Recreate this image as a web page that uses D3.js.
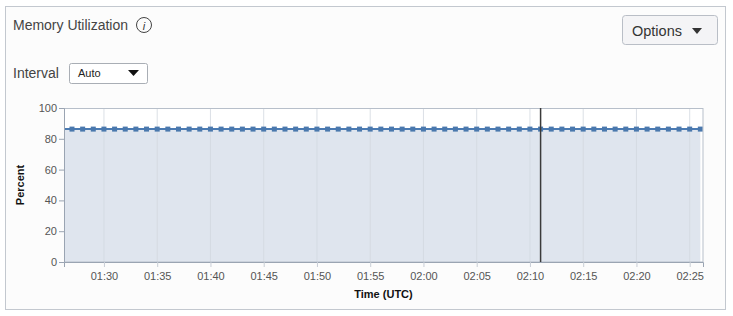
<!DOCTYPE html>
<html>
<head>
<meta charset="utf-8">
<script src="https://cdn.jsdelivr.net/npm/d3@7"></script>
<style>
    body { margin: 0; background: #fff; font-family: "Liberation Sans", Arial, sans-serif; }
    svg text { font-family: "Liberation Sans", Arial, sans-serif; }
</style>
</head>
<body>
<div id="chart"></div>
<script>
// data: one sample per minute, 01:26 .. 02:26 (UTC)
let startTime = "01:26";
let percentValues = [
    86.3, 86.3, 86.3, 86.3, 86.3, 86.3, 86.3, 86.3, 86.3, 86.3,
    86.3, 86.3, 86.3, 86.3, 86.3, 86.3, 86.3, 86.3, 86.3, 86.3,
    86.3, 86.3, 86.3, 86.3, 86.3, 86.3, 86.3, 86.3, 86.3, 86.3,
    86.3, 86.3, 86.3, 86.3, 86.3, 86.3, 86.3, 86.3, 86.3, 86.3,
    86.3, 86.3, 86.3, 86.3, 86.3, 86.3, 86.3, 86.3, 86.3, 86.3,
    86.3, 86.3, 86.3, 86.3, 86.3, 86.3, 86.3, 86.3, 86.3, 86.3,
    86.3
];
let yTicks = [0, 20, 40, 60, 80, 100];
let xTickLabels = ["01:30", "01:35", "01:40", "01:45", "01:50", "01:55",
    "02:00", "02:05", "02:10", "02:15", "02:20", "02:25"];
let timeDomain = ["01:26:15", "02:26:15"];
let cursorTime = "02:11";

let parseHM = d3.utcParse("%H:%M");
let parseHMS = d3.utcParse("%H:%M:%S");
let t0 = parseHM(startTime);
let data = percentValues.map((v, i) => ({ time: d3.utcMinute.offset(t0, i), value: v }));

let W = 733, H = 316;
let margin = {top: 108, right: 30, bottom: 54, left: 64};
let width = 703 - margin.left;
let height = 262 - margin.top;

let svg = d3.select("#chart").append("svg")
    .attr("width", W)
    .attr("height", H);

// panel
svg.append("rect")
    .attr("x", 5.5).attr("y", 6.5)
    .attr("width", 720).attr("height", 303)
    .attr("fill", "#fcfcfc")
    .attr("stroke", "#c3c8cf");

// title + info icon
svg.append("text")
    .attr("x", 13).attr("y", 30)
    .attr("font-size", "14px").attr("fill", "#444")
    .attr("textLength", 115)
    .text("Memory Utilization");
svg.append("circle")
    .attr("cx", 144).attr("cy", 25).attr("r", 7.5)
    .attr("fill", "none").attr("stroke", "#444").attr("stroke-width", 1);
svg.append("text")
    .attr("x", 144).attr("y", 29.5)
    .attr("text-anchor", "middle")
    .attr("font-size", "11px").attr("font-style", "italic")
    .attr("font-family", "DejaVu Serif, serif")
    .attr("fill", "#333")
    .text("i");

// options button
svg.append("rect")
    .attr("x", 622.5).attr("y", 15.5)
    .attr("width", 95).attr("height", 29).attr("rx", 3)
    .attr("fill", "#f4f4f6").attr("stroke", "#b9bec6");
svg.append("text")
    .attr("x", 632).attr("y", 35.5)
    .attr("font-size", "14.5px").attr("fill", "#333")
    .text("Options");
svg.append("path")
    .attr("d", "M692,28 L702,28 L697,34 Z")
    .attr("fill", "#333");

// interval selector
svg.append("text")
    .attr("x", 13).attr("y", 78)
    .attr("font-size", "14px").attr("fill", "#444")
    .text("Interval");
svg.append("rect")
    .attr("x", 69.5).attr("y", 63.5)
    .attr("width", 78).attr("height", 20).attr("rx", 2)
    .attr("fill", "#fff").attr("stroke", "#a9aeb5");
svg.append("text")
    .attr("x", 78).attr("y", 77)
    .attr("font-size", "11px").attr("fill", "#222")
    .text("Auto");
svg.append("path")
    .attr("d", "M128,70 L139,70 L133.5,76 Z")
    .attr("fill", "#111");

let g = svg.append("g")
    .attr("transform", "translate(" + margin.left + "," + margin.top + ")");

// scales
let x = d3.scaleUtc()
    .domain(timeDomain.map(parseHMS))
    .range([0, width]);
let y = d3.scaleLinear()
    .domain([0, 100])
    .range([height, 0]);

let xTickTimes = xTickLabels.map(parseHM);

g.append("defs").append("clipPath")
    .attr("id", "clip")
    .append("rect")
    .attr("width", width)
    .attr("height", height);

// plot background
g.append("rect")
    .attr("width", width).attr("height", height)
    .attr("fill", "#fff");

let plot = g.append("g").attr("clip-path", "url(#clip)");

// area
let area = d3.area()
    .x(d => x(d.time))
    .y0(y(0))
    .y1(d => y(d.value));
plot.append("path")
    .datum(data)
    .attr("d", area)
    .attr("fill", "#dfe5ee");

// vertical grid lines
plot.selectAll(".grid")
    .data(xTickTimes)
    .enter().append("line")
    .attr("class", "grid")
    .attr("x1", d => x(d)).attr("x2", d => x(d))
    .attr("y1", 0).attr("y2", height)
    .attr("stroke", "#d2d8e0")
    .attr("stroke-opacity", 0.8)
    .attr("stroke-width", 1);

// line
let line = d3.line()
    .x(d => x(d.time))
    .y(d => y(d.value));
plot.append("path")
    .datum(data)
    .attr("d", line)
    .attr("fill", "none")
    .attr("stroke", "#4b7bb3")
    .attr("stroke-width", 2);

// points
plot.selectAll(".pt")
    .data(data)
    .enter().append("rect")
    .attr("class", "pt")
    .attr("x", d => x(d.time) - 2.5)
    .attr("y", d => y(d.value) - 2.5)
    .attr("width", 5).attr("height", 5)
    .attr("fill", "#4a78ad");

// frame
g.append("rect")
    .attr("x", 0.5).attr("y", 0.5)
    .attr("width", width - 0.5).attr("height", height - 0.5)
    .attr("fill", "none")
    .attr("stroke", "#b7bfca");

// cursor line
g.append("line")
    .attr("x1", x(parseHM(cursorTime))).attr("x2", x(parseHM(cursorTime)))
    .attr("y1", 0).attr("y2", height)
    .attr("stroke", "#3a3a3a")
    .attr("stroke-width", 1.5);

// axes
let xAxis = g.append("g")
    .attr("transform", "translate(0," + height + ")")
    .call(d3.axisBottom(x)
        .tickValues(xTickTimes)
        .tickFormat(d3.utcFormat("%H:%M"))
        .tickSizeOuter(0)
        .tickSize(5)
        .tickPadding(5));
let yAxis = g.append("g")
    .call(d3.axisLeft(y)
        .tickValues(yTicks)
        .tickSizeOuter(0)
        .tickSize(5)
        .tickPadding(2));

[xAxis, yAxis].forEach(a => {
    a.select(".domain").attr("stroke", "#9aa4b2");
    a.selectAll(".tick line").attr("stroke", "#9aa4b2");
    a.selectAll(".tick text")
        .attr("fill", "#555")
        .attr("font-size", "11px")
        .attr("font-family", "Liberation Sans, Arial, sans-serif");
});
xAxis.selectAll(".tick line").attr("stroke", "#c8ced6");

// axis titles
svg.append("text")
    .attr("x", margin.left + width / 2)
    .attr("y", 298)
    .attr("text-anchor", "middle")
    .attr("font-size", "11px").attr("font-weight", "bold").attr("fill", "#111")
    .text("Time (UTC)");
svg.append("text")
    .attr("transform", "translate(24," + (margin.top + height / 2) + ") rotate(-90)")
    .attr("text-anchor", "middle")
    .attr("font-size", "11px").attr("font-weight", "bold").attr("fill", "#111")
    .text("Percent");
</script>
</body>
</html>
